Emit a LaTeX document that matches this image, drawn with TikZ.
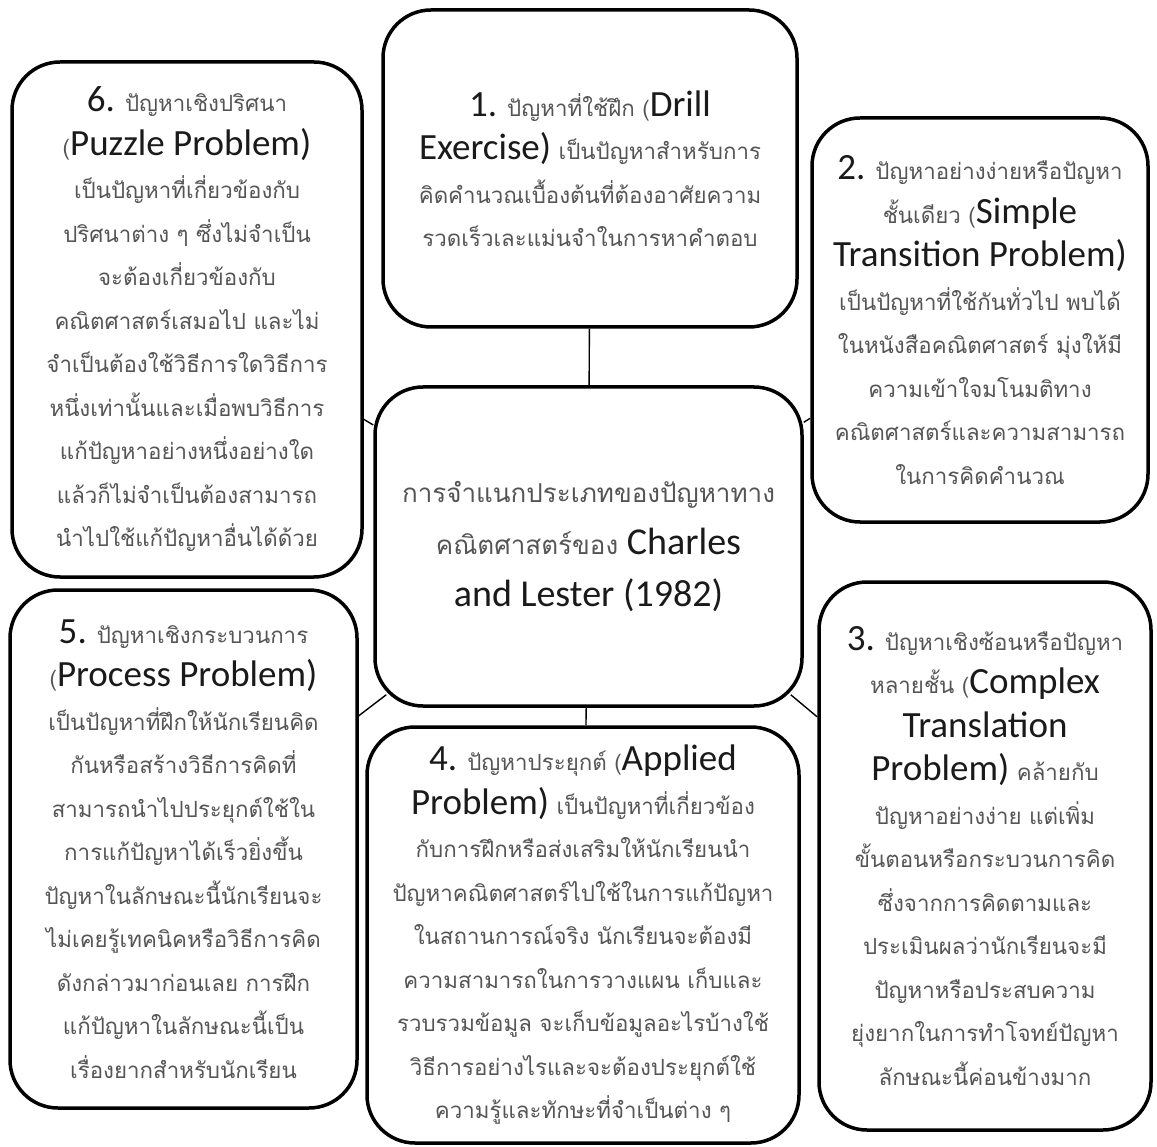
\documentclass[tikz,border=0pt]{standalone}
\usepackage{fontspec}
\setmainfont{Carlito}
\newfontfamily\thaifont[Script=Thai]{Loma}
\newfontfamily\enfont{Carlito}
\usepackage{tikz}
\usetikzlibrary{calc}
\definecolor{thgray}{HTML}{555555}
\definecolor{engray}{HTML}{1A1A1A}
\newcommand{\en}[1]{{\enfont\fontsize{37}{43.5}\selectfont\color{engray}#1}}
\newcommand{\enc}[1]{{\enfont\fontsize{38}{52}\selectfont\color{engray}#1}}
\tikzset{
	box/.style={draw,line width=3.5pt,rounded corners=48pt,align=center,inner sep=0pt,
		text=thgray,font=\thaifont\fontsize{22.3}{43.5}\selectfont},
	main node/.style={box,font=\thaifont\fontsize{26}{52}\selectfont},
	link/.style={line width=1.4pt}
}

\begin{document}
\begin{tikzpicture}[x=1pt,y=-1pt]
\useasboundingbox (0,0) rectangle (1157,1147);
% centre
\node [main node,minimum width=427pt,minimum height=319pt] (ctr) at (588.5,546.5)
	{การจำแนกประเภทของปัญหาทาง\\คณิตศาสตร์ของ \enc{Charles}\\\enc{and Lester (1982)}};
% the six types
\node [box,minimum width=414pt,minimum height=317pt] (b1) at (590,168.5)
	{\en{1.} ปัญหาที่ใช้ฝึก (\en{Drill}\\\en{Exercise)} เป็นปัญหาสำหรับการ\\คิดคำนวณเบื้องต้นที่ต้องอาศัยความ\\รวดเร็วเละแม่นจำในการหาคำตอบ};
\node [box,minimum width=336pt,minimum height=404pt] (b2) at (980,320)
	{\en{2.} ปัญหาอย่างง่ายหรือปัญหา\\ชั้นเดียว (\en{Simple}\\\en{Transition Problem)}\\เป็นปัญหาที่ใช้กันทั่วไป พบได้\\ในหนังสือคณิตศาสตร์ มุ่งให้มี\\ความเข้าใจมโนมติทาง\\คณิตศาสตร์และความสามารถ\\ในการคิดคำนวณ};
\node [box,minimum width=332pt,minimum height=548pt] (b3) at (985,856)
	{\en{3.} ปัญหาเชิงซ้อนหรือปัญหา\\หลายชั้น (\en{Complex}\\\en{Translation}\\\en{Problem)} คล้ายกับ\\ปัญหาอย่างง่าย แต่เพิ่ม\\ขั้นตอนหรือกระบวนการคิด\\ซึ่งจากการคิดตามและ\\ประเมินผลว่านักเรียนจะมี\\ปัญหาหรือประสบความ\\ยุ่งยากในการทำโจทย์ปัญหา\\ลักษณะนี้ค่อนข้างมาก};
\node [box,minimum width=432pt,minimum height=416pt] (b4) at (583,935)
	{\en{4.} ปัญหาประยุกต์ (\en{Applied}\\\en{Problem)} เป็นปัญหาที่เกี่ยวข้อง\\กับการฝึกหรือส่งเสริมให้นักเรียนนำ\\ปัญหาคณิตศาสตร์ไปใช้ในการแก้ปัญหา\\ในสถานการณ์จริง นักเรียนจะต้องมี\\ความสามารถในการวางแผน เก็บและ\\รวบรวมข้อมูล จะเก็บข้อมูลอะไรบ้างใช้\\วิธีการอย่างไรและจะต้องประยุกต์ใช้\\ความรู้และทักษะที่จำเป็นต่าง ๆ};
\node [box,minimum width=347pt,minimum height=518pt] (b5) at (183.5,849)
	{\en{5.} ปัญหาเชิงกระบวนการ\\(\en{Process Problem)}\\เป็นปัญหาที่ฝึกให้นักเรียนคิด\\กันหรือสร้างวิธีการคิดที่\\สามารถนำไปประยุกต์ใช้ใน\\การแก้ปัญหาได้เร็วยิ่งขึ้น\\ปัญหาในลักษณะนี้นักเรียนจะ\\ไม่เคยรู้เทคนิคหรือวิธีการคิด\\ดังกล่าวมาก่อนเลย การฝึก\\แก้ปัญหาในลักษณะนี้เป็น\\เรื่องยากสำหรับนักเรียน};
\node [box,minimum width=350pt,minimum height=515pt] (b6) at (187,319.5)
	{\en{6.} ปัญหาเชิงปริศนา\\(\en{Puzzle Problem)}\\เป็นปัญหาที่เกี่ยวข้องกับ\\ปริศนาต่าง ๆ ซึ่งไม่จำเป็น\\จะต้องเกี่ยวข้องกับ\\คณิตศาสตร์เสมอไป และไม่\\จำเป็นต้องใช้วิธีการใดวิธีการ\\หนึ่งเท่านั้นและเมื่อพบวิธีการ\\แก้ปัญหาอย่างหนึ่งอย่างใด\\แล้วก็ไม่จำเป็นต้องสามารถ\\นำไปใช้แก้ปัญหาอื่นได้ด้วย};
% links
\draw [link] (b1) -- (ctr);
\draw [link] (ctr) -- (b4);
\draw [link] (b6) -- (ctr);
\draw [link] (b2) -- (ctr);
\draw [link] (b5) -- ($(ctr.south west)+(13,-13)$);
\draw [link] (b3) -- ($(ctr.south east)+(-13,-13)$);
\end{tikzpicture}
\end{document}
